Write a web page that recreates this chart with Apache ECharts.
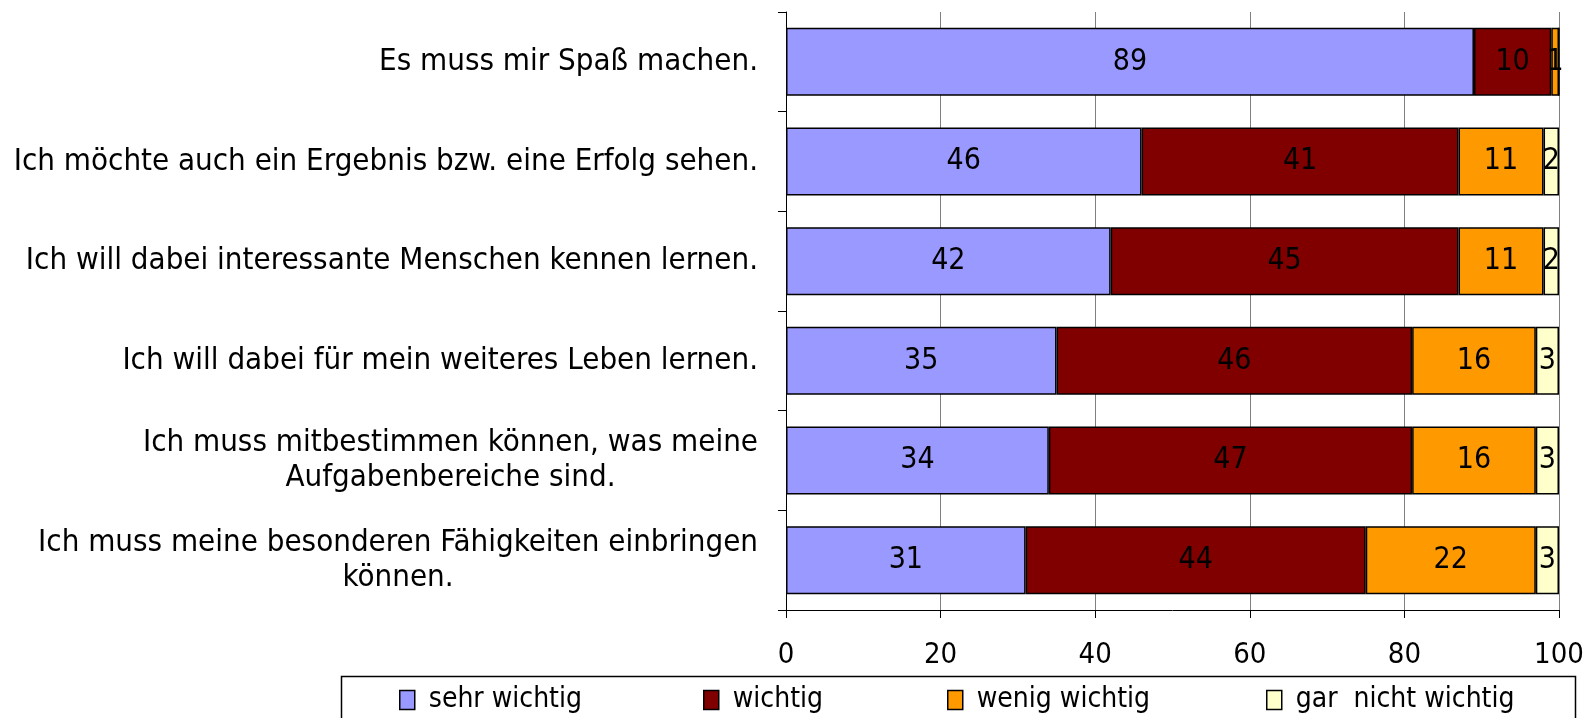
<!DOCTYPE html>
<html><head><meta charset="utf-8">
<script src="https://cdn.jsdelivr.net/npm/echarts@6/dist/echarts.min.js"></script>
<style>html,body{margin:0;padding:0;background:#fff}#c{width:1595px;height:718px}</style>
</head><body><div id="c"></div>
<script>
const categories = [
  "Es muss mir Spaß machen.",
  "Ich möchte auch ein Ergebnis bzw. eine Erfolg sehen.",
  "Ich will dabei interessante Menschen kennen lernen.",
  "Ich will dabei für mein weiteres Leben lernen.",
  "Ich muss mitbestimmen können, was meine\nAufgabenbereiche sind.",
  "Ich muss meine besonderen Fähigkeiten einbringen\nkönnen."
];
const seriesNames = ["sehr wichtig", "wichtig", "wenig wichtig", "gar  nicht wichtig"];
const sehrWichtig = [89, 46, 42, 35, 34, 31];
const wichtig = [10, 41, 45, 46, 47, 44];
const wenigWichtig = [1, 11, 11, 16, 16, 22];
const garNichtWichtig = [0, 2, 2, 3, 3, 3];
const xTicks = { min: 0, max: 100, interval: 20 };

const colors = ["#9999FF", "#800000", "#FF9900", "#FFFFCC"];
const values = [sehrWichtig, wichtig, wenigWichtig, garNichtWichtig];
const FONT = "DejaVu Sans Condensed";

const chart = echarts.init(document.getElementById('c'), null, {renderer: 'canvas'});
const legendLefts = [399, 703, 947, 1266];

const option = {
  animation: false,
  textStyle: { fontFamily: FONT },
  grid: { left: 786, right: 36, top: 12, bottom: 108, containLabel: false },
  xAxis: {
    type: 'value', min: xTicks.min, max: xTicks.max, interval: xTicks.interval,
    axisLine: { show: true, lineStyle: { color: '#000', width: 1 } },
    axisTick: { show: true, length: 8, lineStyle: { color: '#000' } },
    splitLine: { show: true, lineStyle: { color: '#808080', width: 1 } },
    axisLabel: { color: '#000', fontSize: 29, fontFamily: FONT, margin: 31 }
  },
  yAxis: {
    type: 'category', inverse: true, data: categories,
    axisLine: { show: true, lineStyle: { color: '#000', width: 1 } },
    axisTick: { show: true, length: 8, lineStyle: { color: '#000' } },
    splitLine: { show: false },
    axisLabel: {
      color: '#000', fontSize: 31, fontFamily: FONT, margin: 28, align: 'right',
      formatter: v => v.split('\n').map(l => '{c|' + l + '}').join('\n'),
      rich: { c: { align: 'center', fontSize: 31, fontFamily: FONT, color: '#000', lineHeight: 35 } }
    }
  },
  legend: seriesNames.map((n, i) => ({
    data: [n], left: legendLefts[i], top: 686, padding: 0,
    icon: 'rect', itemWidth: 15, itemHeight: 19, itemGap: 6,
    itemStyle: { borderColor: '#000', borderWidth: 1.5 },
    textStyle: { fontSize: 28, fontFamily: FONT, color: '#000', padding: [0, 0, 0, 9] }
  })),
  graphic: [{
    type: 'rect', left: 339, top: 674, z: -1,
    shape: { width: 1234, height: 100 },
    style: { fill: 'none', stroke: '#000', lineWidth: 1.5 }
  }],
  series: seriesNames.map((n, i) => ({
    name: n, type: 'bar', stack: 'total', barWidth: 68,
    data: values[i],
    itemStyle: { color: colors[i], borderColor: '#000', borderWidth: 1.5 },
    label: {
      show: true, position: 'inside', color: '#000', fontSize: 30, fontFamily: FONT,
      formatter: p => (p.value ? String(p.value) : '')
    }
  }))
};
chart.setOption(option);
</script></body></html>
